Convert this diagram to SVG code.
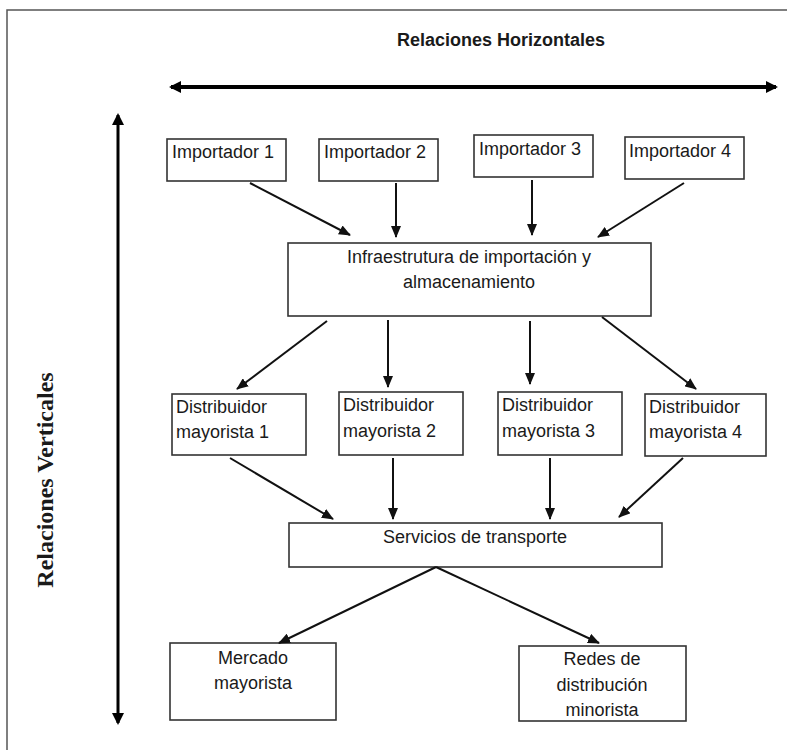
<svg xmlns="http://www.w3.org/2000/svg" width="787" height="750" viewBox="0 0 787 750">
<style>
.box{fill:#fff;stroke:#333;stroke-width:1.6}
.t{font-family:"Liberation Sans",Arial,sans-serif;font-size:18px;fill:#1a1a1a}
.c{text-anchor:middle}
.con line{stroke:#111;stroke-width:2}
.big{stroke:#000}
</style>
<defs>
<marker id="ah" viewBox="0 0 12 10" refX="11" refY="5" markerWidth="12" markerHeight="10" markerUnits="userSpaceOnUse" orient="auto">
<path d="M0,0 L12,5 L0,10 z" fill="#111"/>
</marker>
<marker id="bh" viewBox="0 0 12 12" refX="10" refY="6" markerWidth="12" markerHeight="12" markerUnits="userSpaceOnUse" orient="auto-start-reverse">
<path d="M0,0 L12,6 L0,12 z" fill="#000"/>
</marker>
</defs>
<rect width="787" height="750" fill="#fff"/>
<path d="M7,750 V10 H787" fill="none" stroke="#555" stroke-width="1.5"/>

<g id="axis-h">
<text class="t c" x="501" y="46" font-weight="bold" font-size="16">Relaciones Horizontales</text>
<line class="big" x1="171" y1="87" x2="776" y2="87" stroke-width="4" marker-start="url(#bh)" marker-end="url(#bh)"/>
</g>
<g id="axis-v">
<line class="big" x1="118" y1="115" x2="118" y2="723" stroke-width="3" marker-start="url(#bh)" marker-end="url(#bh)"/>
<text x="53" y="480" transform="rotate(-90 53 480)" text-anchor="middle" font-family="'Liberation Serif','Times New Roman',serif" font-weight="bold" font-size="24" fill="#1a1a1a">Relaciones Verticales</text>
</g>

<g id="imp1"><rect class="box" x="167" y="139" width="119" height="42"/><text class="t" x="172" y="158">Importador 1</text></g>
<g id="imp2"><rect class="box" x="319" y="139" width="119" height="42"/><text class="t" x="324" y="158">Importador 2</text></g>
<g id="imp3"><rect class="box" x="474" y="135" width="119" height="42"/><text class="t" x="479" y="155">Importador 3</text></g>
<g id="imp4"><rect class="box" x="625" y="137" width="119" height="42"/><text class="t" x="629" y="157">Importador 4</text></g>

<g id="infra"><rect class="box" x="288" y="243" width="363" height="73"/>
<text class="t c" x="469" y="263">Infraestrutura de importación y</text>
<text class="t c" x="469" y="288">almacenamiento</text></g>

<g id="dist1"><rect class="box" x="172" y="394" width="134" height="61"/><text class="t" x="176" y="413">Distribuidor</text><text class="t" x="176" y="438">mayorista 1</text></g>
<g id="dist2"><rect class="box" x="339" y="392" width="124" height="63"/><text class="t" x="343" y="411">Distribuidor</text><text class="t" x="343" y="437">mayorista 2</text></g>
<g id="dist3"><rect class="box" x="498" y="392" width="124" height="63"/><text class="t" x="502" y="411">Distribuidor</text><text class="t" x="502" y="437">mayorista 3</text></g>
<g id="dist4"><rect class="box" x="645" y="394" width="121" height="62"/><text class="t" x="649" y="413">Distribuidor</text><text class="t" x="649" y="438">mayorista 4</text></g>

<g id="transporte"><rect class="box" x="289" y="523" width="373" height="44"/><text class="t c" x="475" y="543">Servicios de transporte</text></g>

<g id="mercado"><rect class="box" x="170" y="643" width="166" height="77"/><text class="t c" x="253" y="664">Mercado</text><text class="t c" x="253" y="689">mayorista</text></g>
<g id="redes"><rect class="box" x="519" y="646" width="167" height="75"/><text class="t c" x="602" y="665">Redes de</text><text class="t c" x="602" y="691">distribución</text><text class="t c" x="602" y="716">minorista</text></g>

<g id="connectors" class="con">
<line x1="250" y1="183" x2="350" y2="235" marker-end="url(#ah)"/>
<line x1="396" y1="183" x2="396" y2="237" marker-end="url(#ah)"/>
<line x1="532" y1="180" x2="532" y2="235" marker-end="url(#ah)"/>
<line x1="684" y1="183" x2="598" y2="237" marker-end="url(#ah)"/>
<line x1="327" y1="321" x2="237" y2="389" marker-end="url(#ah)"/>
<line x1="388" y1="320" x2="388" y2="387" marker-end="url(#ah)"/>
<line x1="530" y1="321" x2="530" y2="384" marker-end="url(#ah)"/>
<line x1="602" y1="317" x2="696" y2="389" marker-end="url(#ah)"/>
<line x1="230" y1="458" x2="333" y2="519" marker-end="url(#ah)"/>
<line x1="393" y1="458" x2="393" y2="519" marker-end="url(#ah)"/>
<line x1="550" y1="458" x2="550" y2="519" marker-end="url(#ah)"/>
<line x1="683" y1="458" x2="619" y2="517" marker-end="url(#ah)"/>
<line x1="436" y1="567" x2="279" y2="643" marker-end="url(#ah)"/>
<line x1="436" y1="567" x2="599" y2="643" marker-end="url(#ah)"/>
</g>
</svg>
